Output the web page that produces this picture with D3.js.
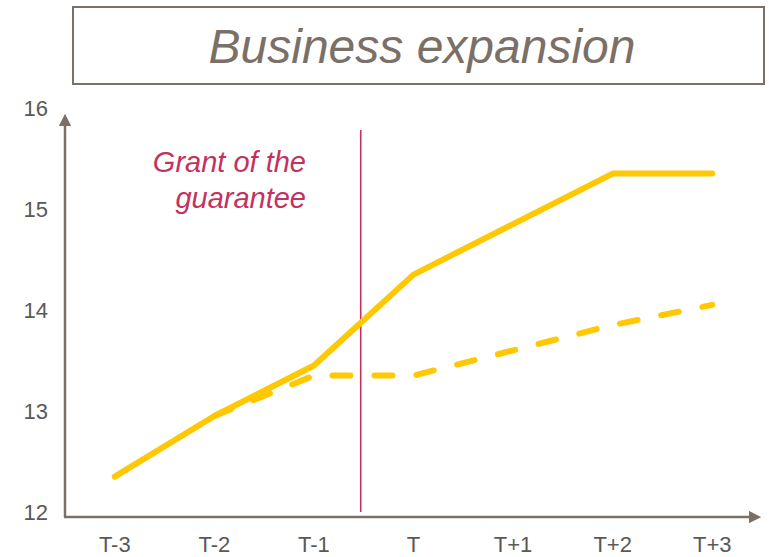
<!DOCTYPE html>
<html><head><meta charset="utf-8">
<script src="https://cdn.jsdelivr.net/npm/d3@7/dist/d3.min.js"></script>
<style>html,body{margin:0;padding:0;background:#fff;}svg{display:block;}</style>
</head><body>
<svg id="c" width="769" height="557"></svg>
<script>
const categories = ["T-3","T-2","T-1","T","T+1","T+2","T+3"];
const withGuarantee = [12.4, 13.0, 13.5, 14.4, 14.9, 15.4, 15.4];
const withoutGuarantee = [null, 13.0, 13.4, 13.4, 13.65, 13.9, 14.1];
const yTicks = [12, 13, 14, 15, 16];
const titleText = "Business expansion";
const annotation = ["Grant of the", "guarantee"];
const grantPosition = 2.47; // fractional category index where the guarantee is granted

const svg = d3.select("#c");
const font = "Liberation Sans, Arial, sans-serif";
const axisColor = "#7b7068";
const lineColor = "#ffc800";
const markColor = "#c4315f";

const x = d3.scaleBand().domain(categories).range([65, 762]);
const y = d3.scaleLinear().domain([12, 16]).range([517, 113]);
const xc = c => x(c) + x.bandwidth()/2;
const xi = i => x(categories[0]) + x.bandwidth()*(i+0.5);

// title box
svg.append("rect").attr("x",73).attr("y",7).attr("width",691).attr("height",77)
  .attr("fill","none").attr("stroke",axisColor).attr("stroke-width",2);
svg.append("text").attr("x",422).attr("y",63).attr("text-anchor","middle")
  .attr("font-family",font).attr("font-style","italic").attr("font-size",48)
  .attr("fill",axisColor).text(titleText);

// arrow markers
const defs = svg.append("defs");
defs.append("marker").attr("id","arr").attr("viewBox","0 0 10 10").attr("refX",1).attr("refY",5)
  .attr("markerWidth",5).attr("markerHeight",5).attr("orient","auto-start-reverse")
  .attr("markerUnits","strokeWidth")
  .append("path").attr("d","M0,0 L10,5 L0,10 Z").attr("fill",axisColor);

// axes lines
svg.append("line").attr("x1",65).attr("y1",y(12)).attr("x2",65).attr("y2",y(16)+12)
  .attr("stroke",axisColor).attr("stroke-width",2.5).attr("marker-end","url(#arr)");
svg.append("line").attr("x1",64).attr("y1",y(12)).attr("x2",750).attr("y2",y(12))
  .attr("stroke",axisColor).attr("stroke-width",2.5).attr("marker-end","url(#arr)");

// y labels
const yAxis = d3.axisLeft(y).tickValues(yTicks).tickSize(0).tickPadding(17).tickFormat(d3.format("d"));
const gy = svg.append("g").attr("transform","translate(65,0)").call(yAxis);
gy.select(".domain").remove();
gy.selectAll("text").attr("font-family",font).attr("font-size",22).attr("fill","#595959")
  .attr("dy","0.1em");

// x labels
const xAxis = d3.axisBottom(x).tickSize(0).tickPadding(19);
const gx = svg.append("g").attr("transform",`translate(0,${y(12)})`).call(xAxis);
gx.select(".domain").remove();
gx.selectAll("text").attr("font-family",font).attr("font-size",22).attr("fill","#595959");

// vertical grant line
const gxPos = xi(grantPosition);
svg.append("line").attr("x1",gxPos).attr("x2",gxPos).attr("y1",130).attr("y2",512)
  .attr("stroke",markColor).attr("stroke-width",1.6);

// annotation
const ann = svg.append("text").attr("text-anchor","end").attr("font-family",font)
  .attr("font-style","italic").attr("font-size",29).attr("fill",markColor);
annotation.forEach((t,i)=>ann.append("tspan").attr("x",306).attr("y",172+i*36).text(t));

// lines
const line = d3.line().defined(d=>d.v!=null).x(d=>xc(d.c)).y(d=>y(d.v));
svg.append("path").datum(categories.map((c,i)=>({c,v:withoutGuarantee[i]})))
  .attr("d",line).attr("fill","none").attr("stroke",lineColor).attr("stroke-width",6)
  .attr("stroke-linecap","round").attr("stroke-linejoin","round").attr("stroke-dasharray","18 24");
svg.append("path").datum(categories.map((c,i)=>({c,v:withGuarantee[i]})))
  .attr("d",line).attr("fill","none").attr("stroke",lineColor).attr("stroke-width",6)
  .attr("stroke-linecap","round").attr("stroke-linejoin","round");
</script>
</body></html>
